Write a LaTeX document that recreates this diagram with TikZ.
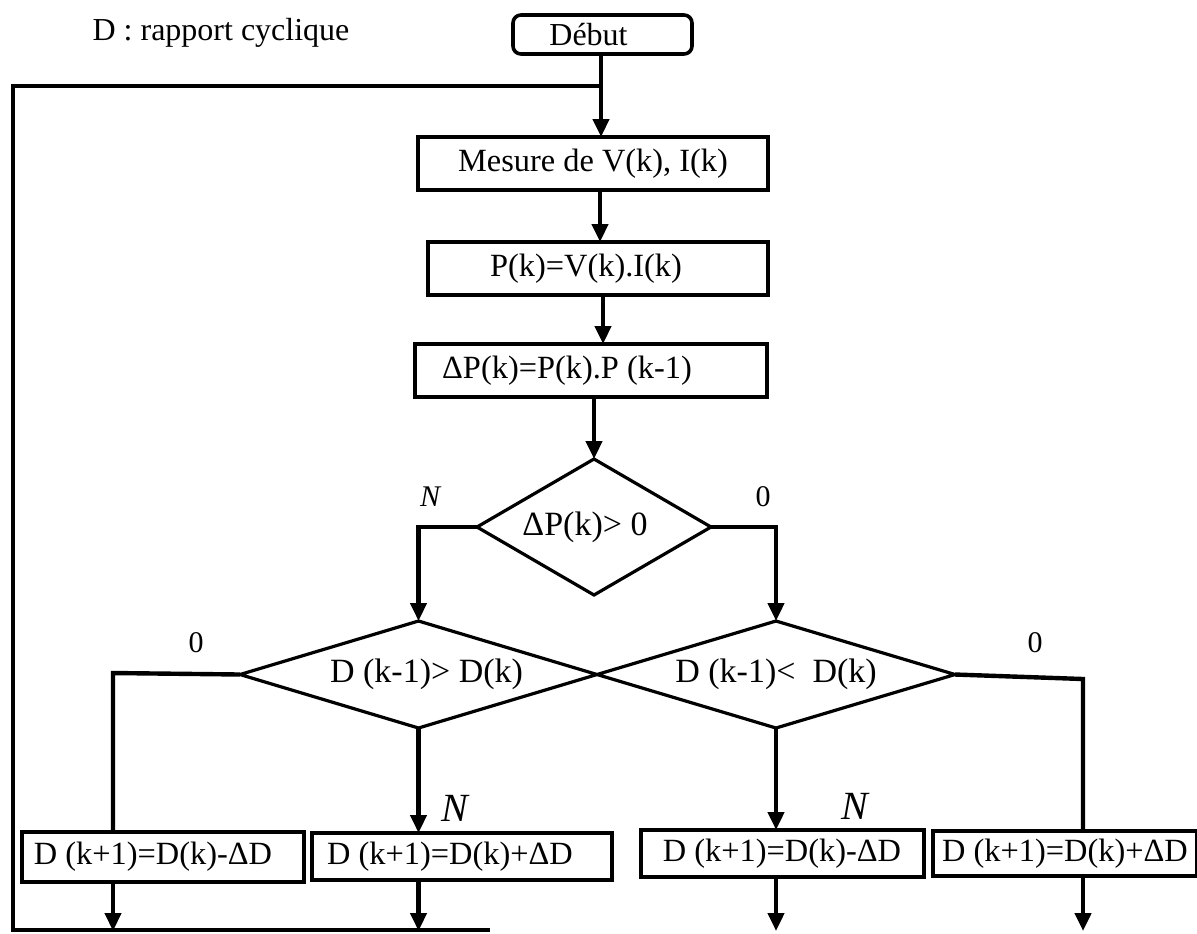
\documentclass[tikz,border=0pt]{standalone}
\usepackage{fontspec}
\setmainfont{Liberation Serif}
\usetikzlibrary{arrows.meta,shapes.geometric}
\begin{document}
\begin{tikzpicture}[x=0.5pt,y=-0.5pt,
  every node/.style={inner sep=0pt, outer sep=0pt},
  procbox/.style={draw, line width=2pt, minimum width=#1, minimum height=26.5pt,
    font=\fontsize{16.2}{18}\selectfont},
  testbox/.style={draw, line width=1.6pt, shape=diamond, aspect=3,
    font=\fontsize{17}{19}\selectfont},
  wire/.style={line width=2.2pt},
  flow/.style={wire, -{Triangle[width=8pt,length=9pt]}},
  lbl/.style={font=\fontsize{15}{18}\selectfont},
  biglbl/.style={font=\fontsize{20}{22}\selectfont\itshape},
]
\useasboundingbox (0,0) rectangle (1197,933);

% title note and start terminal
\node[font=\fontsize{16}{18}\selectfont] (note) at (221,33) {D : rapport cyclique};
\node[draw, line width=1.8pt, rounded corners=4pt, minimum width=89.5pt, minimum height=19.5pt,
  font=\fontsize{16}{18}\selectfont] (debut) at (602.5,34.5) {Début\hspace*{14pt}};

% main chain
\node[procbox=175pt] (mesure) at (593,163.5) {Mesure de V(k), I(k)};
\node[procbox=170pt] (pk) at (598,268.5) {\hspace*{-12pt}P(k)=V(k).I(k)};
\node[procbox=176pt] (dpk) at (591,370.5) {\hspace*{-24pt}ΔP(k)=P(k).P (k-1)};

% decisions
\node[testbox, minimum width=117pt, minimum height=68pt] (t1) at (594,527) {\hspace*{-9pt}ΔP(k)> 0};
\node[testbox, minimum width=178.5pt, minimum height=53.5pt] (t2) at (418.5,674.5) {D (k-1)> D(k)\hspace*{-8pt}};
\node[testbox, minimum width=179pt, minimum height=53.5pt] (t3) at (776,674.5) {D (k-1)<\ \ D(k)};

% duty-cycle updates
\node[procbox=141pt, minimum height=25pt] (b1) at (163,857) {\hspace*{-10pt}D (k+1)=D(k)-ΔD};
\node[procbox=150pt, minimum height=23.5pt] (b2) at (462,856.5) {\hspace*{-12pt}D (k+1)=D(k)+ΔD};
\node[procbox=141.5pt, minimum height=23.5pt] (b3) at (782,853.5) {D (k+1)=D(k)-ΔD};
\node[procbox=132pt, minimum height=22.5pt] (b4) at (1065,853.5) {D (k+1)=D(k)+ΔD};

% branch labels
\node[font=\fontsize{15}{18}\selectfont\itshape] (n1) at (430,497) {N};
\node[lbl] (o1) at (763,497) {0};
\node[lbl] (o2) at (196,643) {0};
\node[lbl] (o3) at (1035,643) {0};
\node[biglbl] (n2) at (455,808) {N};
\node[biglbl] (n3) at (855,806) {N};

% helper points
\coordinate (loopR) at (601,86);
\coordinate (loopTL) at (13,86);
\coordinate (loopBL) at (13,930);
\coordinate (loopEnd) at (490,930);
\coordinate (c1) at (113,673);
\coordinate (c4) at (1083,679);
\coordinate (bot) at (0,931);

% connectors
\draw[flow] (loopR |- debut.south) -- (loopR |- mesure.north);
\draw[wire] (loopR) -- (loopTL) -- (loopBL) -- (loopEnd);
\draw[flow] (600,0 |- mesure.south) -- (600,0 |- pk.north);
\draw[flow] (603,0 |- pk.south) -- (603,0 |- dpk.north);
\draw[flow] (t1.north |- dpk.south) -- (t1.north);
\draw[flow] (t1.west) -| (t2.north);
\draw[flow] (t1.east) -| (t3.north);
\draw[wire] (t2.west) -- (c1) -- (c1 |- b1.north);
\draw[flow] (t2.south) -- (t2.south |- b2.north);
\draw[flow] (t3.south) -- (t3.south |- b3.north);
\draw[wire] (t3.east) -- (c4) -- (c4 |- b4.north);
\draw[flow] (c1 |- b1.south) -- (c1 |- bot);
\draw[flow] (t2.south |- b2.south) -- (t2.south |- bot);
\draw[flow] (t3.south |- b3.south) -- (t3.south |- bot);
\draw[flow] (c4 |- b4.south) -- (c4 |- bot);
\end{tikzpicture}
\end{document}
